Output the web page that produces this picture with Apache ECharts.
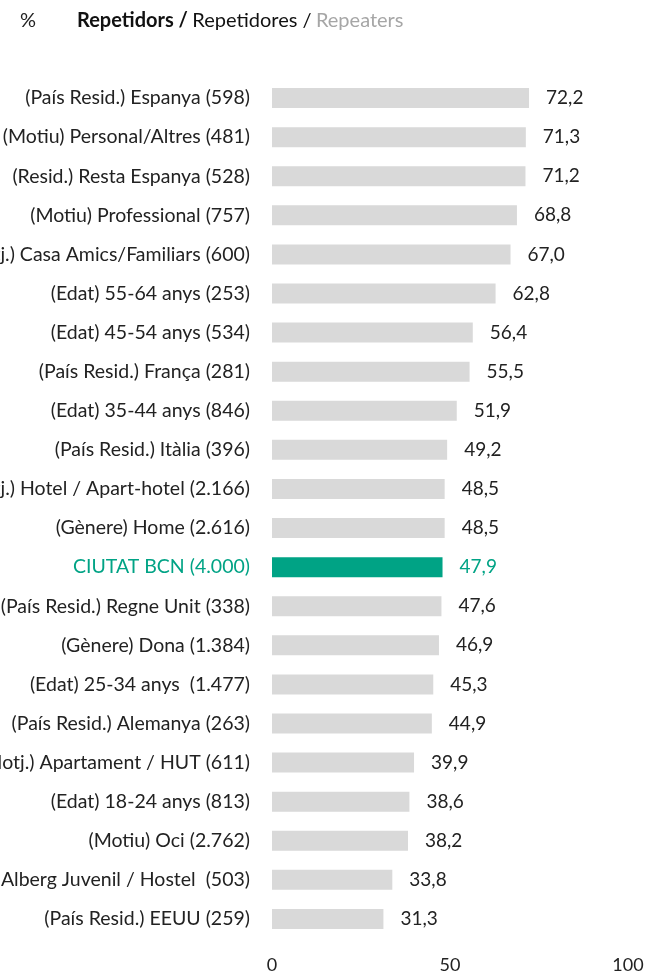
<!DOCTYPE html>
<html>
<head>
<meta charset="utf-8">
<script src="https://cdn.jsdelivr.net/npm/echarts@6/dist/echarts.min.js"></script>
<style>
  html, body { margin: 0; padding: 0; background: #fff; }
  #chart { width: 646px; height: 976px; }
</style>
</head>
<body>
<div id="chart"></div>
<script>
// categories, top to bottom
const categories = [
  "(País Resid.) Espanya (598)",
  "(Motiu) Personal/Altres (481)",
  "(Resid.) Resta Espanya (528)",
  "(Motiu) Professional (757)",
  "(Allotj.) Casa Amics/Familiars (600)",
  "(Edat) 55-64 anys (253)",
  "(Edat) 45-54 anys (534)",
  "(País Resid.) França (281)",
  "(Edat) 35-44 anys (846)",
  "(País Resid.) Itàlia (396)",
  "(Allotj.) Hotel / Apart-hotel (2.166)",
  "(Gènere) Home (2.616)",
  "CIUTAT BCN (4.000)",
  "(País Resid.) Regne Unit (338)",
  "(Gènere) Dona (1.384)",
  "(Edat) 25-34 anys  (1.477)",
  "(País Resid.) Alemanya (263)",
  "(Allotj.) Apartament / HUT (611)",
  "(Edat) 18-24 anys (813)",
  "(Motiu) Oci (2.762)",
  "(Allotj.) Alberg Juvenil / Hostel  (503)",
  "(País Resid.) EEUU (259)"
];
const values = [72.2, 71.3, 71.2, 68.8, 67.0, 62.8, 56.4, 55.5, 51.9, 49.2, 48.5, 48.5,
  47.9, 47.6, 46.9, 45.3, 44.9, 39.9, 38.6, 38.2, 33.8, 31.3];
const highlight = "CIUTAT BCN (4.000)";
const xTicks = [0, 50, 100];

const grey = "#D9D9D9";
const teal = "#00A385";
const font = "Lato";

const chart = echarts.init(document.getElementById("chart"));
chart.setOption({
  animation: false,
  textStyle: { fontFamily: font },
  title: {
    left: 15,
    top: 6,
    text: "{p|%}{b|Repetidors /} {n|Repetidores /} {g|Repeaters}",
    textStyle: {
      rich: {
        p: { fontFamily: font, fontSize: 20, fontWeight: "normal", color: "#222", width: 57 },
        b: { fontFamily: font, fontSize: 20, fontWeight: "bold", color: "#111" },
        n: { fontFamily: font, fontSize: 20, fontWeight: "normal", color: "#111" },
        g: { fontFamily: font, fontSize: 20, fontWeight: "normal", color: "#A6A6A6" }
      }
    }
  },
  // labels on the left are allowed to run off the canvas, as in the original
  grid: { left: 272, right: 18, top: 78.5, bottom: 37.5, containLabel: false, outerBoundsMode: "none" },
  xAxis: {
    type: "value",
    min: xTicks[0],
    max: xTicks[xTicks.length - 1],
    interval: 50,
    axisLine: { show: false },
    axisTick: { show: false },
    splitLine: { show: false },
    axisLabel: { fontFamily: font, fontSize: 18, color: "#222", margin: 18 }
  },
  yAxis: {
    type: "category",
    inverse: true,
    data: categories,
    axisLine: { show: false },
    axisTick: { show: false },
    axisLabel: {
      fontFamily: font,
      fontSize: 19.5,
      margin: 22,
      color: function (v) { return v === highlight ? teal : "#222"; }
    }
  },
  series: [{
    type: "bar",
    barWidth: 20,
    data: values.map(function (v, i) {
      const hi = categories[i] === highlight;
      return {
        value: v,
        itemStyle: { color: hi ? teal : grey },
        label: { color: hi ? teal : "#222" }
      };
    }),
    label: {
      show: true,
      position: "right",
      distance: 17,
      fontFamily: font,
      fontSize: 19,
      formatter: function (p) { return p.value.toFixed(1).replace(".", ","); }
    }
  }]
});
</script>
</body>
</html>
